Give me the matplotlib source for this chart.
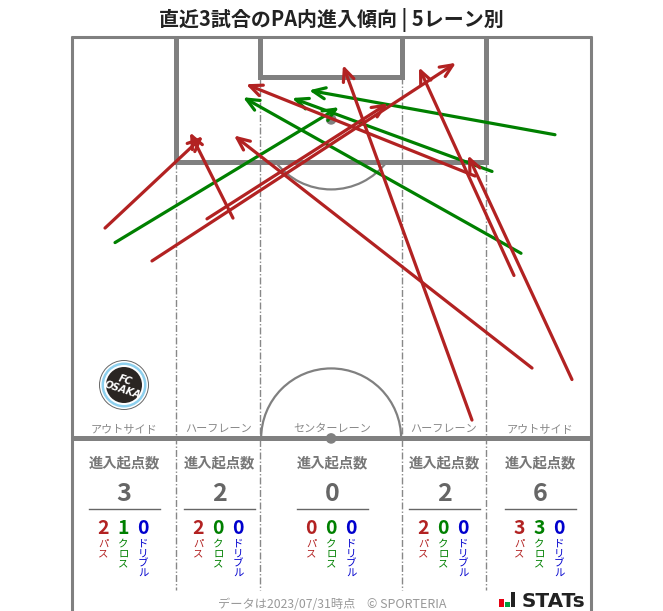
import matplotlib
matplotlib.use('Agg')
import matplotlib.pyplot as plt
from matplotlib.patches import Arc, Circle, Rectangle

plt.rcParams['font.family'] = ['Noto Sans CJK JP', 'DejaVu Sans']

# lanes and counts
lane_names = ['アウトサイド', 'ハーフレーン', 'センターレーン', 'ハーフレーン', 'アウトサイド']
totals = [3, 2, 0, 2, 6]
passes = [2, 2, 0, 2, 3]
crosses = [1, 0, 0, 0, 3]
dribbles = [0, 0, 0, 0, 0]
kinds = ['パス', 'クロス', 'ドリブル']

# arrows in metres: x from left touchline, y from goal line
red_x0 = [4.38, 21.11, 10.52, 17.71, 60.2, 52.35, 57.84, 65.42, 52.75]
red_y0 = [25.0, 23.7, 29.3, 23.8, 43.3, 50.1, 31.2, 44.8, 18.2]
red_x1 = [17.19, 15.49, 50.26, 41.37, 21.24, 35.49, 45.42, 51.83, 22.81]
red_y1 = [13.0, 12.5, 3.4, 8.7, 12.9, 3.7, 4.0, 15.5, 6.2]

green_x0 = [5.69, 63.2, 54.97, 58.76]
green_y0 = [26.9, 12.8, 17.6, 28.3]
green_x1 = [34.97, 31.05, 28.82, 22.42]
green_y1 = [9.2, 7.0, 8.0, 7.9]

RED = '#b22222'
GREEN = '#008000'
BLUE = '#0000cd'
LINE = '#808080'
GREY = '#666666'

W, H = 663, 611
fig = plt.figure(figsize=(W / 100, H / 100), dpi=100)

# px axes for the text, pitch axes in metres on top
ax = fig.add_axes([0, 0, 1, 1])
ax.set_xlim(0, W)
ax.set_ylim(H, 0)
ax.axis('off')

s = 7.65
left, top = 71.8, 36.8
pitch = fig.add_axes([0, 0, 1, 1])
pitch.set_xlim(-left / s, (W - left) / s)
pitch.set_ylim((H - top) / s, -top / s)
pitch.axis('off')
pitch.patch.set_alpha(0)

halfway = 52.5
bottom = (H - top) / s
box_l, box_r, box_d = 13.6, 54.15, 16.4
goal_l, goal_r, goal_d = 24.6, 43.1, 5.3
dash = (5, 1.5, 1, 1.5)

# lane dividers
for x in [box_l, box_r]:
    pitch.plot([x, x], [box_d, 72.3], color='#888888', lw=1, dashes=dash, zorder=1)
for x in [goal_l, goal_r]:
    pitch.plot([x, x], [goal_d, 72.3], color='#888888', lw=1, dashes=dash, zorder=1)

# pitch lines
pitch.plot([0, 0], [-0.1, bottom], color=LINE, lw=2.2, zorder=2, solid_capstyle='butt')
pitch.plot([67.9, 67.9], [-0.1, bottom], color=LINE, lw=2.2, zorder=2, solid_capstyle='butt')
pitch.plot([-0.15, 68.05], [0, 0], color=LINE, lw=2.2, zorder=2, solid_capstyle='butt')
pitch.plot([0, 67.9], [halfway, halfway], color=LINE, lw=3.6, zorder=2, solid_capstyle='butt')
pitch.plot([box_l, box_l, box_r, box_r], [0, box_d, box_d, 0], color=LINE, lw=3.6, zorder=2,
           solid_joinstyle='miter', solid_capstyle='butt')
pitch.plot([goal_l, goal_l, goal_r, goal_r], [0, goal_d, goal_d, 0], color=LINE, lw=3.6, zorder=2,
           solid_joinstyle='miter', solid_capstyle='butt')
pitch.add_patch(Circle((33.9, 10.8), 0.6, color=LINE, zorder=2))
pitch.add_patch(Circle((33.9, halfway), 0.6, color=LINE, zorder=3))
pitch.add_patch(Arc((33.9, 10.8), 18.3, 18.3, theta1=37, theta2=143, color=LINE, lw=1.6, zorder=2))
pitch.add_patch(Arc((33.9, halfway), 18.3, 18.3, theta1=180, theta2=360, color=LINE, lw=1.6, zorder=2))

# arrows, px positions were read against left=71.5
dx = (71.5 - left) / s
head = '->,head_length=0.9,head_width=0.4'
for x0, y0, x1, y1 in zip(red_x0, red_y0, red_x1, red_y1):
    pitch.annotate('', xy=(x1 + dx, y1), xytext=(x0 + dx, y0), zorder=5,
                   arrowprops=dict(arrowstyle=head, color=RED, lw=2.3, shrinkA=0, shrinkB=0))
for x0, y0, x1, y1 in zip(green_x0, green_y0, green_x1, green_y1):
    pitch.annotate('', xy=(x1 + dx, y1), xytext=(x0 + dx, y0), zorder=4,
                   arrowprops=dict(arrowstyle=head, color=GREEN, lw=2.3, shrinkA=0, shrinkB=0))

# title
ax.text(331, 20, '直近3試合のPA内進入傾向 | 5レーン別', ha='center', va='center',
        fontsize=14.4, fontweight='bold', color='#222222')

# crest
lx, ly = 124, 385
ax.add_patch(Circle((lx, ly), 24.5, fc='white', ec='#666666', lw=0.7))
ax.add_patch(Circle((lx, ly), 22.5, fc='#8ed0ee', ec='none'))
ax.add_patch(Circle((lx, ly), 20, fc='white', ec='none'))
ax.add_patch(Circle((lx, ly), 18, fc='#2a2522', ec='none'))
ax.text(lx, ly, 'FC\nOSAKA', ha='center', va='center', rotation=-18, fontsize=7, fontweight='bold',
        style='italic', color='white', family='DejaVu Sans', linespacing=0.95, multialignment='center')

# lane panels
centres = [124, 219, 332, 444, 540]
for i, cx in enumerate(centres):
    ax.text(cx, 429, lane_names[i], ha='center', va='center', fontsize=8, color='#888888')
    ax.text(cx, 463, '進入起点数', ha='center', va='center', fontsize=10.3, fontweight='bold', color='#777777')
    ax.text(cx, 494, str(totals[i]), ha='center', va='center', fontsize=18, fontweight='bold', color=GREY)
    ax.plot([cx - 35.5, cx + 35.5], [508.5, 508.5], color=GREY, lw=1)
    vals = [passes[i], crosses[i], dribbles[i]]
    for k, (name, col) in enumerate(zip(kinds, [RED, GREEN, BLUE])):
        kx = cx - 0.7 + (k - 1) * 20
        ax.text(kx, 528, str(vals[k]), ha='center', va='center', fontsize=14, fontweight='bold', color=col)
        for j, ch in enumerate(name):
            ax.text(kx, 543.5 + j * 10, ch, ha='center', va='center', fontsize=7.5, color=col)

# footer
ax.text(286.5, 605, 'データは2023/07/31時点', ha='center', va='center', fontsize=8.8, color='#999999')
ax.text(406.5, 605, '© SPORTERIA', ha='center', va='center', fontsize=9, color='#999999')
ax.add_patch(Rectangle((499, 599), 4.5, 8, color='#e60012', lw=0))
ax.add_patch(Rectangle((505, 602), 4.5, 5, color='#00a040', lw=0))
ax.add_patch(Rectangle((510.5, 592), 4.5, 15, color='#222222', lw=0))
ax.text(522, 607, 'STATs', ha='left', va='baseline', fontsize=14.4, fontweight='bold', color='#222222',
        family='DejaVu Sans')

fig.savefig('out.png', dpi=100)
